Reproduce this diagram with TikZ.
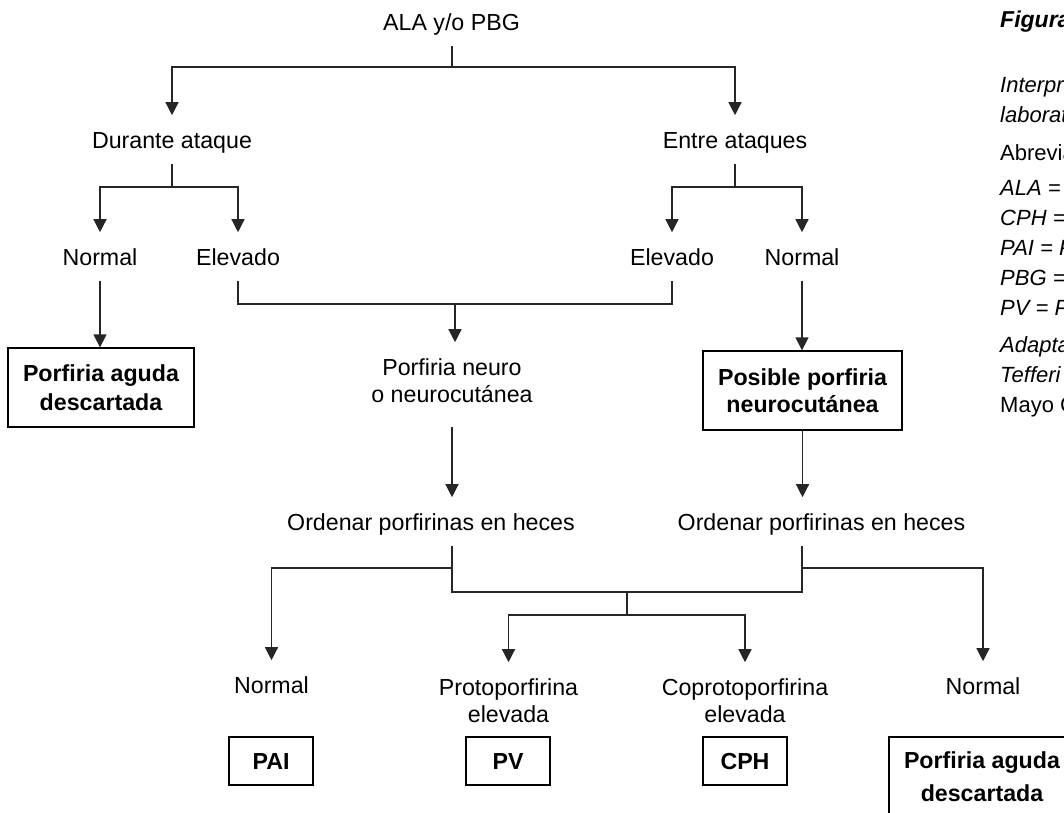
\documentclass[tikz,border=0pt]{standalone}
\usepackage{fontspec}
\setmainfont{Liberation Sans}
\usetikzlibrary{arrows.meta}
\newcommand\twol[3]{\vtop{\baselineskip=#3pt\halign{\hfil##\hfil\cr#1\cr#2\cr}}}
\begin{document}
\begin{tikzpicture}[x=1pt,y=-1pt,
  conn/.style={line width=1.3pt, draw=black!85},
  arr/.style={conn, -{Triangle[width=13pt,length=13pt]}},
  lbl/.style={font=\fontsize{23.2}{27}\selectfont, inner xsep=0pt, inner ysep=16pt, text height=16.6pt, text depth=0pt, anchor=base},
  bx/.style={draw=black, line width=1.3pt, font=\fontsize{23.2}{27}\selectfont\bfseries, inner sep=0pt, text height=16.6pt, anchor=center},
  rc/.style={font=\fontsize{22}{26}\selectfont\itshape, anchor=base west, inner sep=0pt}
]
\useasboundingbox (0,0) rectangle (1064,812);
\clip (0,0) rectangle (1064,812);
\fill[white] (0,0) rectangle (1064,812);

% labels
\node[lbl] (ala) at (451.5,30) {ALA y/o PBG};
\node[lbl] (dur) at (172,148) {Durante ataque};
\node[lbl] (ent) at (735,148) {Entre ataques};
\node[lbl] (nL) at (100,265) {Normal};
\node[lbl] (eL) at (238,265) {Elevado};
\node[lbl] (eR) at (672,265) {Elevado};
\node[lbl] (nR) at (802,265) {Normal};
\node[bx, minimum width=186pt, minimum height=79pt, text depth=29pt] (b1) at (101,387.5) {\twol{Porfiria aguda}{descartada}{29}};
\node[lbl, text depth=36pt] (neuro) at (452,375) {\twol{Porfiria neuro}{o neurocutánea}{27}};
\node[bx, minimum width=199pt, minimum height=79pt, text depth=27pt] (b2) at (802.5,390.5) {\twol{Posible porfiria}{neurocutánea}{27}};
\node[lbl] (ordL) at (431,530) {Ordenar porfirinas en heces};
\node[lbl] (ordR) at (821.5,530) {Ordenar porfirinas en heces};
\node[lbl] (n3) at (271.5,693) {Normal};
\node[lbl, text depth=27pt] (proto) at (508.5,695) {\twol{Protoporfirina}{elevada}{27}};
\node[lbl, text depth=27pt] (copro) at (745,695) {\twol{Coprotoporfirina}{elevada}{27}};
\node[lbl] (n4) at (983,694) {Normal};
\node[bx, minimum width=84pt, minimum height=48pt, text depth=0pt] (pai) at (271,761) {PAI};
\node[bx, minimum width=84pt, minimum height=48pt, text depth=0pt] (pv) at (508,761) {PV};
\node[bx, minimum width=84pt, minimum height=48pt, text depth=0pt] (cph) at (745,761) {CPH};
\node[bx, minimum width=186pt, minimum height=79pt, text depth=33pt] (b3) at (982,776.5) {\twol{Porfiria aguda}{descartada}{33}};

% junctions
\coordinate (ja) at (452,67);
\coordinate (jd) at (172,187);
\coordinate (je) at (735,187);
\coordinate (jm) at (455,304);
\coordinate (jl) at (452,568);
\coordinate (jr) at (802,568);
\coordinate (jbl) at (452,592);
\coordinate (jbr) at (802,592);
\coordinate (jc) at (627,592);
\coordinate (jc2) at (627,615);

% connectors
\draw[conn] (ala.south -| ja) -- (ja);
\draw[arr] (ja) -| (dur.north);
\draw[arr] (ja) -| (ent.north);
\draw[conn] (dur.south) -- (jd);
\draw[arr] (jd) -| (nL.north);
\draw[arr] (jd) -| (eL.north);
\draw[conn] (ent.south) -- (je);
\draw[arr] (je) -| (eR.north);
\draw[arr] (je) -| (nR.north);
\draw[arr] (nL.south) -- (nL.south |- b1.north);
\draw[conn] (eL.south) |- (jm) -| (eR.south);
\draw[arr] (jm) -- (jm |- neuro.north);
\draw[arr] (nR.south) -- (nR.south |- b2.north);
\draw[arr] (neuro.south) -- (neuro.south |- ordL.north);
\draw[arr] (b2.south) -- (b2.south |- ordR.north);
\draw[conn] (jl |- ordL.south) -- (jbl) -- (jbr) -- (jr |- ordR.south);
\draw[arr] (jl) -| (n3.north);
\draw[arr] (jr) -| (n4.north);
\draw[conn] (jc) -- (jc2);
\draw[arr] (jc2) -| (proto.north);
\draw[arr] (jc2) -| (copro.north);

% right column (cut by the picture edge, as in the reference)
\node[rc, font=\fontsize{23}{26}\selectfont\bfseries\itshape] (fig) at (1000,27) {Figura};
\node[rc] (t1) at (1000,92) {Interpr};
\node[rc] (t2) at (1000,122) {laborat};
\node[rc, font=\fontsize{22}{26}\selectfont] (t3) at (1000,160) {Abrevia};
\node[rc] (t4) at (1000,195) {ALA =};
\node[rc] (t5) at (1000,225) {CPH =};
\node[rc] (t6) at (1000,255) {PAI = P};
\node[rc] (t7) at (1000,285) {PBG =};
\node[rc] (t8) at (1000,315) {PV = P};
\node[rc] (t9) at (1000,352) {Adapta};
\node[rc] (t10) at (1000,382) {Tefferi};
\node[rc, font=\fontsize{22}{26}\selectfont] (t11) at (1000,412) {Mayo C};
\end{tikzpicture}
\end{document}
